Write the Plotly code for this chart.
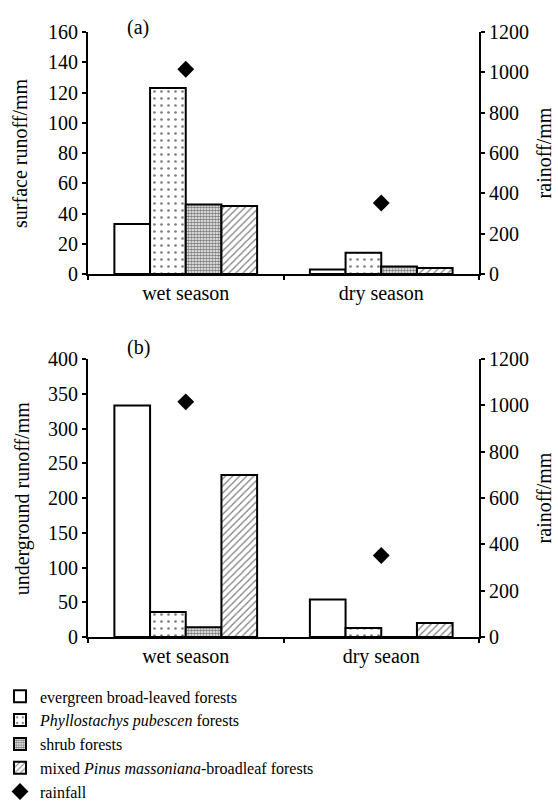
import plotly.graph_objects as go

seasons_a = ["wet season", "dry season"]
seasons_b = ["wet season", "dry seaon"]

forest_names = [
    "evergreen broad-leaved forests",
    "<i>Phyllostachys pubescen</i> forests",
    "shrub forests",
    "mixed <i>Pinus massoniana</i>-broadleaf forests",
]

# surface runoff (mm): [wet, dry]
surface_evergreen = [33, 3]
surface_phyllo = [123, 14]
surface_shrub = [46, 5]
surface_mixed = [45, 4]

# underground runoff (mm): [wet, dry]
under_evergreen = [333, 54]
under_phyllo = [36, 13]
under_shrub = [14, 0]
under_mixed = [233, 20]

# rainfall (mm): [wet, dry]
rainfall = [1015, 352]

patterns = [
    dict(shape=""),
    dict(shape=".", size=7, solidity=0.12, fgcolor="black"),
    dict(shape=".", size=3, solidity=0.65, fgcolor="black"),
    dict(shape="/", size=5, solidity=0.25, fgcolor="black"),
]

FONT = '"Liberation Serif", "Times New Roman", Times, serif'
fig = go.Figure()

surface = [surface_evergreen, surface_phyllo, surface_shrub, surface_mixed]
under = [under_evergreen, under_phyllo, under_shrub, under_mixed]

for i, name in enumerate(forest_names):
    fig.add_trace(go.Bar(
        x=seasons_a, y=surface[i], name=name,
        marker=dict(color="white", line=dict(color="black", width=2), pattern=patterns[i]),
        xaxis="x", yaxis="y", showlegend=True,
    ))
fig.add_trace(go.Scatter(
    x=seasons_a, y=rainfall, name="rainfall", mode="markers",
    marker=dict(symbol="diamond", size=13, color="black"),
    xaxis="x", yaxis="y2", showlegend=True,
))
for i, name in enumerate(forest_names):
    fig.add_trace(go.Bar(
        x=seasons_b, y=under[i], name=name,
        marker=dict(color="white", line=dict(color="black", width=2), pattern=patterns[i]),
        xaxis="x2", yaxis="y3", showlegend=False,
    ))
fig.add_trace(go.Scatter(
    x=seasons_b, y=rainfall, name="rainfall", mode="markers",
    marker=dict(symbol="diamond", size=13, color="black"),
    xaxis="x2", yaxis="y4", showlegend=False,
))

axis_common = dict(
    showline=True, linecolor="black", linewidth=2, showgrid=False, zeroline=False,
    ticks="outside", ticklen=4, tickwidth=1.5, tickcolor="black", automargin=True,
    tickfont=dict(family=FONT, size=20, color="black"),
)
title_font = dict(family=FONT, size=20, color="black")

fig.update_layout(
    width=558, height=805,
    margin=dict(l=88, r=79, t=32, b=168, autoexpand=False),
    paper_bgcolor="white", plot_bgcolor="white",
    barmode="group", bargap=0.27, bargroupgap=0,
    font=dict(family=FONT, size=20, color="black"),
    xaxis=dict(domain=[0, 1], anchor="y", type="category", tickson="boundaries",
               tickangle=0, **axis_common),
    yaxis=dict(domain=[0.6, 1], anchor="x", range=[0, 160], dtick=20, **axis_common),
    yaxis2=dict(overlaying="y", side="right", anchor="x", range=[0, 1200], dtick=200,
                title=dict(text="rainoff/mm", font=title_font, standoff=9),
                **axis_common),
    xaxis2=dict(domain=[0, 1], anchor="y3", type="category", tickson="boundaries",
                tickangle=0, **axis_common),
    yaxis3=dict(domain=[0, 0.4595], anchor="x2", range=[0, 400], dtick=50, **axis_common),
    yaxis4=dict(overlaying="y3", side="right", anchor="x2", range=[0, 1200], dtick=200,
                title=dict(text="rainoff/mm", font=title_font, standoff=9),
                **axis_common),
    legend=dict(
        xref="container", yref="container",
        x=0.0, xanchor="left", y=0.156, yanchor="top",
        font=dict(family=FONT, size=16, color="black"),
        traceorder="normal", tracegroupgap=0, itemwidth=30,
        bgcolor="rgba(0,0,0,0)",
    ),
    annotations=[
        dict(text="(a)", x=0.095, y=1.03, xref="paper", yref="paper", showarrow=False,
             font=dict(family=FONT, size=20, color="black")),
        dict(text="(b)", x=0.095, y=0.478, xref="paper", yref="paper", showarrow=False,
             font=dict(family=FONT, size=20, color="black")),
        dict(text="surface runoff/mm", textangle=-90, x=-0.174, y=0.8,
             xref="paper", yref="paper", xanchor="center", yanchor="middle",
             showarrow=False, font=title_font),
        dict(text="underground runoff/mm", textangle=-90, x=-0.168, y=0.2297,
             xref="paper", yref="paper", xanchor="center", yanchor="middle",
             showarrow=False, font=title_font),
    ],
)

fig.write_html("out.html", post_script="document.body.style.margin='0px';",
               config={"displayModeBar": False})
